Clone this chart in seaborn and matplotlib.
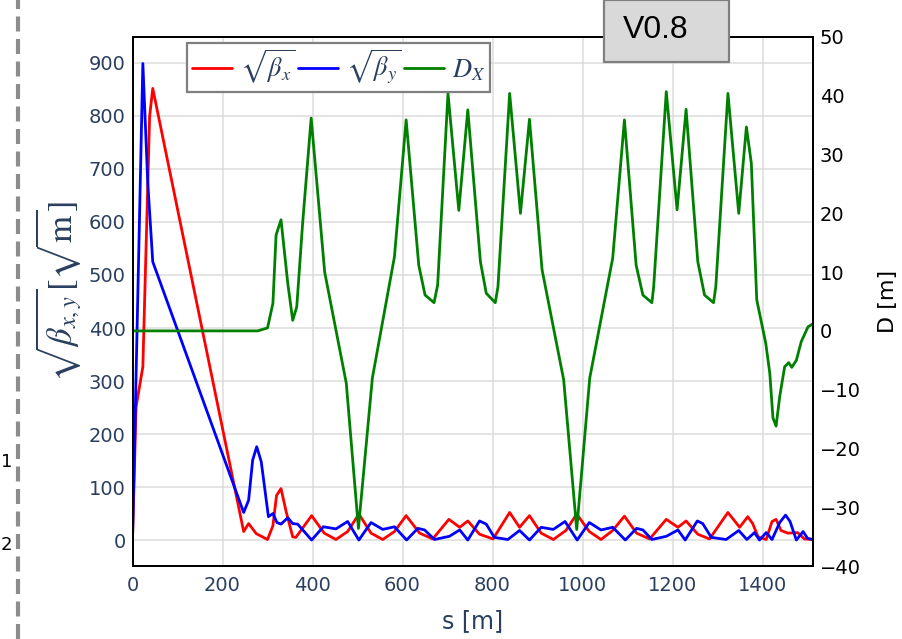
import matplotlib
matplotlib.use("Agg")
import matplotlib.pyplot as plt
import seaborn as sns
import numpy as np
import pandas as pd
from matplotlib.lines import Line2D
from matplotlib.patches import Rectangle

# ---------------- data ----------------
s_bx = [0, 8, 23, 38, 45, 247, 258, 275, 300, 312, 320, 330, 341, 356, 363, 398, 426, 452, 478, 503,
        530, 556, 582, 608, 638, 667, 703, 727, 745, 771, 801, 838, 860, 882, 908, 935, 963, 987, 1015, 1041,
        1067, 1093, 1120, 1149, 1186, 1212, 1230, 1256, 1282, 1323, 1349, 1367, 1378, 1390, 1408, 1421, 1430,
        1441, 1456, 1478, 1493, 1512]
sqrt_bx = [0, 251, 327, 799, 852, 16, 31, 12, 1, 27, 84, 97, 55, 6, 5, 46, 13, 1, 16, 49,
           13, 1, 16, 46, 13, 2, 39, 24, 36, 11, 2, 52, 24, 46, 13, 1, 18, 49, 16, 1,
           18, 45, 13, 2, 39, 24, 36, 11, 2, 52, 24, 44, 31, 6, 1, 35, 39,
           18, 13, 14, 2, 1]

s_by = [0, 23, 34, 45, 247, 258, 267, 276, 286, 302, 312, 321, 330, 345, 356, 367, 398, 424, 452, 478,
        503, 530, 556, 582, 609, 634, 649, 671, 704, 727, 745, 771, 786, 804, 834, 860, 882, 908, 935, 961,
        988, 1015, 1041, 1067, 1095, 1120, 1134, 1154, 1186, 1212, 1228, 1255, 1267, 1286, 1319, 1347, 1365,
        1382, 1393, 1408, 1421, 1438, 1451, 1461, 1475, 1490, 1500, 1512]
sqrt_by = [0, 899, 673, 525, 52, 75, 151, 176, 148, 44, 50, 33, 30, 42, 31, 30, 0, 25, 21, 35,
           0, 33, 20, 25, 0, 22, 19, 1, 7, 19, 0, 36, 30, 5, 1, 18, 0, 24, 20, 35,
           0, 33, 19, 24, 0, 22, 19, 1, 7, 19, 0, 36, 31, 5, 1, 18, 1,
           14, 0, 14, 1, 33, 47, 35, 0, 16, 3, 1]

s_D = [0, 278, 300, 312, 319, 330, 345, 356, 365, 378, 397, 427, 475, 502, 533, 582, 608, 636, 650, 670,
       678, 701, 725, 745, 773, 786, 806, 812, 838, 862, 882, 910, 958, 987, 1016, 1067, 1093, 1119, 1134, 1154,
       1158, 1186, 1210, 1230, 1256, 1271, 1291, 1296, 1323, 1347, 1364, 1375, 1387, 1407, 1416, 1423, 1430,
       1438, 1449, 1458, 1465, 1475, 1486, 1501, 1512]
D_x = [0, 0, 0.5, 4.7, 16.3, 18.9, 8.1, 1.8, 4.1, 18.3, 36.2, 10.0, -8.9, -33.6, -8.0, 12.6, 35.9, 11.2, 6.1, 4.8,
       7.8, 40.4, 20.5, 37.6, 11.8, 6.4, 4.8, 7.5, 40.4, 20.0, 36.0, 10.4, -8.3, -33.8, -8.0, 12.4, 35.9, 11.2, 6.1, 4.8,
       7.5, 40.7, 20.6, 37.7, 11.8, 6.1, 4.8, 7.5, 40.4, 20.0, 34.7, 28.5, 5.3, -2.1, -7.2, -14.8, -16.2,
       -11.2, -6.1, -5.4, -6.2, -5.0, -1.8, 0.7, 1.2]

x_ticks = [0, 200, 400, 600, 800, 1000, 1200, 1400]
left_ticks = [0, 100, 200, 300, 400, 500, 600, 700, 800, 900]
right_ticks = [-40, -30, -20, -10, 0, 10, 20, 30, 40, 50]

label_bx = r"$\sqrt{\beta_x}$"
label_by = r"$\sqrt{\beta_y}$"
label_D = r"$D_X$"
version_text = "V0.8"

# ---------------- style ----------------
sns.set_style("white")
plt.rcParams["font.family"] = ["DejaVu Sans"]
plt.rcParams["mathtext.fontset"] = "stix"
plt.rcParams["axes.unicode_minus"] = True

W, H = 902, 639
fig = plt.figure(figsize=(W / 100, H / 100), dpi=100)
L, R, T, B = 132.5, 813, 37, 566
ax = fig.add_axes([L / W, 1 - B / H, (R - L) / W, (B - T) / H])
ax2 = ax.twinx()

dfx = pd.DataFrame({"s": s_bx, "v": sqrt_bx})
dfy = pd.DataFrame({"s": s_by, "v": sqrt_by})
dfd = pd.DataFrame({"s": s_D, "D": D_x})

lw = 2.0
sns.lineplot(data=dfx, x="s", y="v", ax=ax, color="#ff0000", lw=lw, estimator=None, sort=False)
sns.lineplot(data=dfy, x="s", y="v", ax=ax, color="#0000ff", lw=lw, estimator=None, sort=False)
sns.lineplot(data=dfd, x="s", y="D", ax=ax2, color="#008000", lw=lw, estimator=None, sort=False)

ax.set_xlim(0, 1512)
ax.set_ylim(-49, 949)
ax2.set_ylim(-40, 50)

tick_color = "#2a3f5f"
ax.set_xticks(x_ticks)
ax.set_yticks(left_ticks)
ax2.set_yticks(right_ticks)
ax.tick_params(axis="both", length=0, labelsize=14, colors=tick_color)
ax.tick_params(axis="x", pad=7)
ax.tick_params(axis="y", pad=5)
ax2.tick_params(axis="y", length=0, labelsize=14, colors="black", pad=5)

ax.grid(True, color="#dcdcdc", lw=1.1)
ax.set_axisbelow(True)
ax2.grid(False)
for a in (ax, ax2):
    for sp in a.spines.values():
        sp.set_color("black")
        sp.set_linewidth(1.4)
        sp.set_visible(True)

ax.set_xlabel("s [m]", fontsize=17, color=tick_color, labelpad=10)
ax.set_ylabel(r"$\sqrt{\beta_{x,y}}[\sqrt{\mathrm{m}}]$", fontsize=25, color=tick_color)
ax.yaxis.set_label_coords(-(L - 84) / (R - L), 0.52)
ax2.set_ylabel("D [m]", fontsize=16, color="black", labelpad=12)

# legend
handles = [Line2D([], [], color="#ff0000", lw=lw),
           Line2D([], [], color="#0000ff", lw=lw),
           Line2D([], [], color="#008000", lw=lw)]
leg = ax2.legend(handles, [label_bx, label_by, label_D], ncol=3, loc="upper left",
                 bbox_to_anchor=(187 / W, 1 - 43 / H), bbox_transform=fig.transFigure,
                 borderaxespad=0, fontsize=19, frameon=True, fancybox=False,
                 handlelength=1.5, handletextpad=0.3, columnspacing=0.1,
                 borderpad=0.2, labelcolor=tick_color)
leg.get_frame().set_edgecolor("#7f7f7f")
leg.get_frame().set_linewidth(1.6)
leg.get_frame().set_facecolor("white")
leg.get_frame().set_alpha(1)

# version box
box = Rectangle((604 / W, 1 - 62 / H), 125 / W, 62 / H, transform=fig.transFigure,
                facecolor="#d9d9d9", edgecolor="#808080", lw=1.6, zorder=10)
fig.add_artist(box)
fig.text(623 / W, 1 - 30 / H, version_text, fontsize=23, family=["Liberation Sans", "DejaVu Sans"],
         ha="left", va="center", color="black", zorder=11)

# neighbour-panel remnants on the left edge
fig.add_artist(Line2D([18 / W, 18 / W], [0, 1], transform=fig.transFigure,
                      color="#8c8c8c", lw=3, dashes=(3.6, 1.8)))
fig.text(1 / W, 1 - 462 / H, "1", fontsize=13, ha="left", va="center", color="black")
fig.text(1 / W, 1 - 545 / H, "2", fontsize=13, ha="left", va="center", color="black")

fig.savefig("out.png", dpi=100)
